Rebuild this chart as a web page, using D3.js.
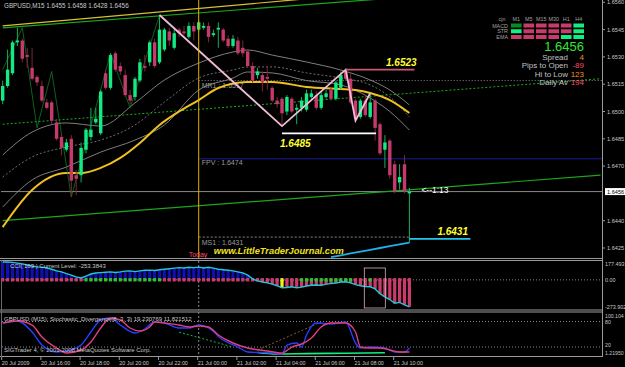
<!DOCTYPE html>
<html><head><meta charset="utf-8">
<script src="https://cdn.jsdelivr.net/npm/d3@7"></script>
<style>
html,body{margin:0;padding:0;background:#000;overflow:hidden}
svg{display:block}
text{font-family:"Liberation Sans",Arial,sans-serif}
</style></head><body>
<svg id="c" width="625" height="367"></svg>
<script>
// ---------------- DATA ----------------
const headerText = "GBPUSD,M15  1.6455 1.6458 1.6428 1.6456";
const opens = [1.6506,1.6514,1.6521,1.6538,1.6539,1.6531,1.6524,1.6519,1.6514,1.6505,
1.6505,1.6494,1.6486,1.6479,1.6485,1.6465,1.6465,1.6479,1.6486,1.6494,
1.6488,1.6521,1.6513,1.6532,1.6525,1.6520,1.6509,1.6508,1.6517,1.6525,
1.6527,1.6538,1.6527,1.6534,1.6544,1.6535,1.6545,1.6544,1.6541,1.6547,
1.6545,1.6546,1.6547,1.6542,1.6545,1.6545,1.6540,1.6536,1.6539,1.6535,
1.6533,1.6525,1.6520,1.6520,1.6519,1.6513,1.6506,1.6507,1.6500,1.6507,
1.6501,1.6502,1.6501,1.6508,1.6509,1.6502,1.6508,1.6512,1.6507,1.6513,
1.6522,1.6518,1.6506,1.6497,1.6506,1.6497,1.6506,1.6493,1.6479,1.6484,
1.6471,1.6461,1.6471,1.6455];
const highs = [1.6517,1.6534,1.6539,1.6546,1.6540,1.6535,1.6535,1.6520,1.6517,1.6507,
1.6506,1.6496,1.6488,1.6485,1.6487,1.6468,1.6483,1.6491,1.6502,1.6502,
1.6512,1.6523,1.6532,1.6533,1.6527,1.6523,1.6512,1.6519,1.6529,1.6531,
1.6539,1.6540,1.6553,1.6546,1.6546,1.6545,1.6546,1.6547,1.6549,1.6549,
1.6550,1.6549,1.6549,1.6545,1.6549,1.6546,1.6542,1.6542,1.6541,1.6539,
1.6534,1.6527,1.6524,1.6522,1.6525,1.6514,1.6508,1.6508,1.6509,1.6508,
1.6504,1.6508,1.6512,1.6512,1.6511,1.6511,1.6512,1.6513,1.6517,1.6522,
1.6523,1.6521,1.6507,1.6507,1.6509,1.6510,1.6507,1.6494,1.6487,1.6485,
1.6473,1.6471,1.6476,1.6458];
const lows = [1.6504,1.6513,1.6520,1.6536,1.6527,1.6524,1.6517,1.6514,1.6505,1.6501,
1.6493,1.6484,1.6476,1.6478,1.6453,1.6454,1.6461,1.6477,1.6484,1.6493,
1.6487,1.6512,1.6512,1.6522,1.6520,1.6508,1.6504,1.6506,1.6516,1.6522,
1.6525,1.6524,1.6526,1.6533,1.6536,1.6534,1.6541,1.6542,1.6540,1.6539,
1.6544,1.6545,1.6538,1.6541,1.6535,1.6538,1.6535,1.6535,1.6531,1.6530,
1.6524,1.6516,1.6518,1.6511,1.6512,1.6505,1.6502,1.6492,1.6498,1.6499,
1.6493,1.6500,1.6500,1.6507,1.6501,1.6501,1.6507,1.6506,1.6506,1.6512,
1.6517,1.6504,1.6495,1.6496,1.6497,1.6496,1.6484,1.6476,1.6469,1.6463,
1.6455,1.6457,1.6455,1.6428];
const closes = [1.6514,1.6523,1.6538,1.6539,1.6529,1.6530,1.6518,1.6516,1.6506,1.6502,
1.6495,1.6485,1.6480,1.6483,1.6462,1.6463,1.6480,1.6490,1.6490,1.6496,
1.6511,1.6513,1.6531,1.6523,1.6522,1.6509,1.6506,1.6518,1.6527,1.6524,
1.6538,1.6525,1.6545,1.6545,1.6539,1.6543,1.6543,1.6543,1.6547,1.6544,
1.6549,1.6547,1.6541,1.6543,1.6546,1.6539,1.6536,1.6540,1.6532,1.6532,
1.6525,1.6517,1.6522,1.6516,1.6518,1.6506,1.6504,1.6499,1.6508,1.6500,
1.6502,1.6506,1.6510,1.6510,1.6502,1.6509,1.6510,1.6507,1.6516,1.6520,
1.6518,1.6505,1.6496,1.6506,1.6498,1.6505,1.6491,1.6477,1.6483,1.6465,
1.6456,1.6464,1.6456,1.6456];

const timeIdx = [0,8,16,24,32,40,48,56,64,72,80];
const timeLabels = ["20 Jul 2009","20 Jul 16:00","20 Jul 18:00","20 Jul 20:00","20 Jul 22:00","21 Jul 00:00","21 Jul 02:00","21 Jul 04:00","21 Jul 06:00","21 Jul 08:00","21 Jul 10:00"];
const priceTicks = [1.6560,1.6545,1.6530,1.6515,1.6500,1.6485,1.6470,1.6440,1.6425];
const bidPrice = 1.6456;

// moving averages sampled at bar index
const maIdx    = [0,6,13,16,20,24,28,32,36,40,44,50,55,62,69,72,75,79,83];
const maYellow = [1.64365,1.64569,1.64662,1.64662,1.64690,1.64745,1.64827,1.64926,1.65000,1.65063,1.65129,1.65162,1.65162,1.65135,1.65124,1.65118,1.65102,1.65063,1.64992];
const bandIdx   = [0,6,13,20,27,33,40,47,50,55,62,69,75,79,83];
const bandUpper = [1.64761,1.64887,1.64937,1.64920,1.65047,1.65173,1.65266,1.65327,1.65338,1.65310,1.65272,1.65228,1.65173,1.65118,1.65036];
const bandMid   = [1.64640,1.64750,1.64805,1.64843,1.64926,1.65052,1.65184,1.65228,1.65245,1.65245,1.65212,1.65184,1.65146,1.65080,1.64970];
const bandLower = [1.64475,1.64624,1.64695,1.64777,1.64843,1.64926,1.65118,1.65184,1.65217,1.65212,1.65170,1.65146,1.65074,1.65000,1.64898];

// zigzag (pink) and thin green swing lines
const zigIdx   = [32,57,70,72,75];
const zigPrice = [1.6553,1.6492,1.6523,1.6495,1.6510];
const swingIdx   = [0,4,7,10,14,20,22,26,32];
const swingPrice = [1.6523,1.6546,1.6491,1.6522,1.6453,1.6512,1.6532,1.6502,1.6553];

// trend lines [idxA, priceA, idxB, priceB]
const trendUpperGreen  = [0,1.6546,122,1.6571];
const trendUpperYellow = [0,1.6547,54,1.6560];
const trendLowerGreen  = [0,1.6440,122,1.6465];
const trendDottedGreen = [0,1.6493,122,1.6518];
const cyanIdx   = [67,71,75,79,83];
const cyanPrice = [1.6420,1.6422,1.6424,1.6426,1.6428];

// pivot levels
const pivotNames  = ["MR1","FPV","MS1"];
const pivotLevels = [1.6517,1.6474,1.6431];
const todayIdx = 40;

// target levels
const levelHigh = 1.6523, levelHighText = "1.6523";
const levelLow = 1.6488,  levelLowText = "1.6485";
const levelTarget = 1.6430, levelTargetText = "1.6431";

// dashboard
const tfCols = ["M1","M5","M15","M30","H1","H4"];
const tfRows = ["MACD","STR","EMA"];
const tfSignals = [[2,0,0,0,0,1],[1,0,0,0,0,1],[0,0,0,0,1,1]];
const statLabels = ["Spread","Pips to Open","Hi to Low","Daily Av"];
const statValues = ["4","-89","123","194"];

// CCI
const cciVals = [168,168,165,158,150,140,130,122,120,112,100,85,75,58,45,28,18,35,55,65,
68,72,75,70,75,82,85,78,85,90,92,88,95,100,105,110,115,112,118,115,
120,112,118,110,100,95,90,85,75,65,45,10,-10,-20,-28,-40,-55,-75,-72,-65,
-75,-68,-58,-50,-48,-52,-40,-35,-30,-20,-18,-28,-45,-55,-62,-65,-85,-130,-160,-185,
-220,-212,-235,-253.38];
const cciTrend = "rrrrrrrrrrrrrrrrrggggggggggggggggrrrrrrrrrrrrrrrrrrrrrrrryrrrgggggggggggrrrgrrrrrrrr";
const cciMax = 177.493, cciMin = -273.902;

// Stochastic
const stochDIdx = [0,3,6,8,11,13,16,18,20,22,24,26,28,30,31,33,36,38,40,42,44,47,50,54,57,59,61,63,65,67,70,72,73,75,77,79,81,83];
const stochD    = [76.5,81.3,71.8,43.6,17.7,5.9,13,31.8,64.8,88.3,83.6,64.8,57.7,67.1,78.9,76.5,71.8,67.1,69.5,67.1,48.3,29.5,17.7,10.6,5.9,20,27.1,41.2,67.1,76.5,76.5,55.4,20,17.7,17.7,13,8.3,8.3];
const stochKIdx = [0,3,6,8,11,14,16,18,20,22,24,27,29,31,33,36,38,40,42,45,48,50,55,57,58,60,61,62,64,67,70,72,73,75,78,80,82,83];
const stochK    = [76.5,81.3,55.4,24.7,8.3,13,24.7,55.4,83.6,88.3,71.8,53,62.4,78.9,76.5,64.8,64.8,71.8,64.8,36.5,20,8.3,5.9,3.5,24.7,29.5,20,48.3,76.5,74.2,78.9,29.5,17.7,20,17.7,8.3,8.3,17.7];
const stochSigIdx = [52,56,62,70,78];
const stochSig    = [7,3.5,4.5,5.5,6.5];
const stochMax = 100.104, stochMin = 1.2195;

// ---------------- DRAW ----------------
const svg = d3.select("#c");
const W = 625;
const axisX = 602;
const C = {bull:"#12ea82", bear:"#c43a6c", bearWick:"#7a2638", grid:"#7a7a7a", text:"#c8c8c8"};

const x = d3.scaleLinear().domain([0,83]).range([2.7,409.4]);
const y = d3.scaleLinear().domain([1.6425,1.6560]).range([248,2.3]);
const yc = d3.scaleLinear().domain([cciMin,cciMax]).range([309,261]);
const ys = d3.scaleLinear().domain([stochMin,stochMax]).range([355,313]);

svg.append("rect").attr("width",W).attr("height",367).attr("fill","#000");
const defs = svg.append("defs");
defs.append("clipPath").attr("id","mainClip").append("rect").attr("x",1).attr("y",0).attr("width",axisX-1).attr("height",258);
const main = svg.append("g").attr("clip-path","url(#mainClip)");

// frames
[[258.5,260.5],[310,312],[356.5,356.5]].forEach(([t,b])=>{
  svg.append("line").attr("x1",0).attr("x2",axisX).attr("y1",t).attr("y2",t).attr("stroke","#9a9a9a");
  svg.append("line").attr("x1",0).attr("x2",axisX).attr("y1",b).attr("y2",b).attr("stroke","#9a9a9a");
});
svg.append("line").attr("x1",axisX+0.5).attr("x2",axisX+0.5).attr("y1",0).attr("y2",357).attr("stroke","#9a9a9a");
svg.append("line").attr("x1",1.5).attr("x2",1.5).attr("y1",260).attr("y2",357).attr("stroke","#6a6a6a");

// horizontal bid line
main.append("line").attr("x1",0).attr("x2",axisX).attr("y1",y(bidPrice)).attr("y2",y(bidPrice)).attr("stroke","#8a8a8a");

// trendlines
function tl(t,color,w,dash){
  main.append("line").attr("x1",x(t[0])).attr("y1",y(t[1])).attr("x2",x(t[2])).attr("y2",y(t[3]))
    .attr("stroke",color).attr("stroke-width",w).attr("stroke-dasharray",dash||null);
}
tl(trendDottedGreen,"#18b018",1,"2,2");
tl(trendLowerGreen,"#1aa81a",1.2);
tl([trendUpperYellow[0],trendUpperYellow[1],trendUpperYellow[2]*2,trendUpperYellow[3]+(trendUpperYellow[3]-trendUpperYellow[1])],"#d8c030",1.2);
tl(trendUpperGreen,"#1aa81a",1.2);

// pivot lines
const pvX0 = x(todayIdx);
main.append("line").attr("x1",pvX0).attr("x2",axisX).attr("y1",y(pivotLevels[0])).attr("y2",y(pivotLevels[0])).attr("stroke","#8a8a8a").attr("stroke-dasharray","1,2");
main.append("line").attr("x1",pvX0).attr("x2",axisX).attr("y1",y(pivotLevels[1])).attr("y2",y(pivotLevels[1])).attr("stroke","#1c1c9a");
main.append("line").attr("x1",pvX0).attr("x2",x(83)).attr("y1",y(pivotLevels[2])).attr("y2",y(pivotLevels[2])).attr("stroke","#8a8a8a").attr("stroke-dasharray","2,2");
main.append("text").attr("x",pvX0+3).attr("y",y(pivotLevels[0])+7).attr("fill","#9a9a9a").attr("font-size",7).text(pivotNames[0]+" : "+pivotLevels[0].toFixed(4));
main.append("text").attr("x",pvX0+3).attr("y",y(pivotLevels[1])+6.5).attr("fill","#9a9a9a").attr("font-size",7).text(pivotNames[1]+" : "+pivotLevels[1].toFixed(4));
main.append("text").attr("x",pvX0+3).attr("y",y(pivotLevels[2])+7.5).attr("fill","#9a9a9a").attr("font-size",7).text(pivotNames[2]+" : "+pivotLevels[2].toFixed(4));

// bands & MA
const lineGen = (idx)=>d3.line().x((d,i)=>x(idx[i])).y(d=>y(d)).curve(d3.curveMonotoneX);
main.append("path").attr("d",lineGen(bandIdx)(bandUpper)).attr("fill","none").attr("stroke","#8c8c8c").attr("stroke-width",0.9);
main.append("path").attr("d",lineGen(bandIdx)(bandMid)).attr("fill","none").attr("stroke","#7a7a7a").attr("stroke-width",0.9).attr("stroke-dasharray","2,2");
main.append("path").attr("d",lineGen(bandIdx)(bandLower)).attr("fill","none").attr("stroke","#8c8c8c").attr("stroke-width",0.9);
main.append("path").attr("d",lineGen(maIdx)(maYellow)).attr("fill","none").attr("stroke","#f0c020").attr("stroke-width",2);

// swing lines
main.append("path").attr("d",d3.line().x((d,i)=>x(swingIdx[i])).y(d=>y(d))(swingPrice)).attr("fill","none").attr("stroke","#138a28").attr("stroke-width",0.7);

// candles
const candles = opens.map((o,i)=>({i,o,h:highs[i],l:lows[i],c:closes[i]}));
const cg = main.append("g");
candles.forEach(d=>{
  const up = d.c>=d.o;
  cg.append("line").attr("x1",x(d.i)).attr("x2",x(d.i)).attr("y1",y(d.h)).attr("y2",y(d.l))
    .attr("stroke",up?"#10b060":C.bearWick).attr("stroke-width",1);
  const top = y(Math.max(d.o,d.c)), bot = y(Math.min(d.o,d.c));
  cg.append("rect").attr("x",x(d.i)-1.7).attr("width",3.4).attr("y",top).attr("height",Math.max(1.2,bot-top))
    .attr("fill",up?C.bull:C.bear);
});

// zigzag
main.append("path").attr("d",d3.line().x((d,i)=>x(zigIdx[i])).y(d=>y(d))(zigPrice)).attr("fill","none").attr("stroke","#f2bcd8").attr("stroke-width",1.8);

// levels
main.append("line").attr("x1",x(70)).attr("x2",x(83)+5).attr("y1",y(levelHigh)).attr("y2",y(levelHigh)).attr("stroke","#c85a70").attr("stroke-width",1.8);
main.append("line").attr("x1",x(57)).attr("x2",x(76)+1).attr("y1",y(levelLow)).attr("y2",y(levelLow)).attr("stroke","#ffffff").attr("stroke-width",1.8);
main.append("line").attr("x1",x(83)).attr("x2",x(83)+61).attr("y1",y(levelTarget)).attr("y2",y(levelTarget)).attr("stroke","#20c8f0").attr("stroke-width",1.8);
main.append("path").attr("d",d3.line().x((d,i)=>x(cyanIdx[i])).y(d=>y(d)).curve(d3.curveMonotoneX)(cyanPrice)).attr("fill","none").attr("stroke","#20b0e8").attr("stroke-width",1.8);
const lvlStyle = s=>s.attr("fill","#ffff30").attr("font-size",10).attr("font-weight","bold").attr("font-style","italic");
lvlStyle(main.append("text").attr("x",x(77)+6).attr("y",y(levelHigh)-4).text(levelHighText));
lvlStyle(main.append("text").attr("x",x(57)-2).attr("y",y(levelLow)+14).text(levelLowText));
lvlStyle(main.append("text").attr("x",x(83)+28).attr("y",y(levelTarget)-4).text(levelTargetText));
main.append("text").attr("x",x(83)+12).attr("y",y(bidPrice)+1).attr("fill","#ffffff").attr("font-size",8.5).text("<--1:13");

// today line
main.append("line").attr("x1",x(todayIdx)).attr("x2",x(todayIdx)).attr("y1",0).attr("y2",258).attr("stroke","#e0b000").attr("stroke-width",1);
main.append("text").attr("x",x(todayIdx)-10).attr("y",257).attr("fill","#ff4a6a").attr("font-size",7).text("Today");
main.append("text").attr("x",x(todayIdx)+15).attr("y",254).attr("fill","#f0e020").attr("font-size",9.3).attr("font-weight","bold").attr("font-style","italic").text("www.LittleTraderJournal.com");

// header
svg.append("text").attr("x",4).attr("y",8).attr("fill",C.text).attr("font-size",6.3).text(headerText);

// dashboard
const colX = d3.scaleBand().domain(tfCols).range([511,584]).paddingInner(0.15);
const rowY = d3.scaleBand().domain(tfRows).range([23.5,39]).paddingInner(0.3);
const sigColor = ["#c83c6c","#10f080","#0a8a20"];
tfCols.forEach(c=>svg.append("text").attr("x",colX(c)+colX.bandwidth()/2).attr("y",21).attr("text-anchor","middle").attr("fill","#a0a0a0").attr("font-size",5.4).text(c));
svg.append("text").attr("x",502).attr("y",21).attr("text-anchor","middle").attr("fill","#a0a0a0").attr("font-size",5.4).text("cjn");
tfRows.forEach((r,ri)=>{
  svg.append("text").attr("x",508).attr("y",rowY(r)+rowY.bandwidth()).attr("text-anchor","end").attr("fill","#a0a0a0").attr("font-size",5.4).text(r);
  tfCols.forEach((c,ci)=>{
    svg.append("rect").attr("x",colX(c)).attr("y",rowY(r)).attr("width",colX.bandwidth()).attr("height",rowY.bandwidth()).attr("fill",sigColor[tfSignals[ri][ci]]);
  });
});
svg.append("text").attr("x",584).attr("y",51).attr("text-anchor","end").attr("fill","#32e632").attr("font-size",13).text(bidPrice.toFixed(4));
const statColors = ["#ff8a1a","#ff4a6a","#ff8a1a","#ff4a6a"];
statLabels.forEach((s,i)=>{
  svg.append("text").attr("x",568).attr("y",60+i*8.3).attr("text-anchor","end").attr("fill","#c0c0c0").attr("font-size",8).text(s);
  svg.append("text").attr("x",584).attr("y",60+i*8.3).attr("text-anchor","end").attr("fill",statColors[i]).attr("font-size",8).text(statValues[i]);
});

// right axis
const axisG = svg.append("g");
priceTicks.forEach(p=>{
  axisG.append("line").attr("x1",axisX).attr("x2",axisX+3).attr("y1",y(p)).attr("y2",y(p)).attr("stroke","#9a9a9a");
  axisG.append("text").attr("x",axisX+5).attr("y",y(p)+2).attr("fill",C.text).attr("font-size",5.6).text(p.toFixed(4));
});
axisG.append("rect").attr("x",axisX+3).attr("y",y(bidPrice)-3.5).attr("width",20).attr("height",7).attr("fill","#ffffff");
axisG.append("text").attr("x",axisX+5).attr("y",y(bidPrice)+2).attr("fill","#000").attr("font-size",5.6).text(bidPrice.toFixed(4));

// time axis
timeIdx.forEach((ti,k)=>{
  svg.append("line").attr("x1",x(ti)-1).attr("x2",x(ti)-1).attr("y1",357).attr("y2",360).attr("stroke","#9a9a9a");
  svg.append("text").attr("x",x(ti)-1).attr("y",364.5).attr("fill",C.text).attr("font-size",5.4).text(timeLabels[k]);
});

// day separator in sub windows
[[261,310],[312,356]].forEach(([a,b])=>svg.append("line").attr("x1",x(todayIdx)).attr("x2",x(todayIdx)).attr("y1",a).attr("y2",b).attr("stroke","#8a8a8a").attr("stroke-dasharray","2,2"));

// CCI panel
const cg2 = svg.append("g");
cg2.append("line").attr("x1",2).attr("x2",axisX).attr("y1",yc(0)).attr("y2",yc(0)).attr("stroke","#8a8a8a").attr("stroke-dasharray","1,2");
const trendCol = {r:"#c83c6c",g:"#30c030",y:"#f0f020"};
cciVals.forEach((v,i)=>{
  const t = cciTrend[i];
  const col = v>=0 ? "#1010b0" : (t==="y" ? "#f0f020" : "#c83c6c");
  cg2.append("rect").attr("x",x(i)-1.6).attr("width",3.2).attr("y",Math.min(yc(v),yc(0))).attr("height",Math.abs(yc(v)-yc(0))).attr("fill",col);
  cg2.append("rect").attr("x",x(i)-1.6).attr("width",3.2).attr("y",yc(0)-1.8).attr("height",3.4).attr("fill",trendCol[t]);
});
cg2.append("path").attr("d",d3.line().x((d,i)=>x(i)).y(d=>yc(d))(cciVals)).attr("fill","none").attr("stroke","#22c8d8").attr("stroke-width",1.4);
cg2.append("rect").attr("x",x(74)-1).attr("y",yc(cciMax)+7).attr("width",21).attr("height",40).attr("fill","none").attr("stroke","#d8b0c0").attr("stroke-width",0.8);
svg.append("text").attr("x",10).attr("y",268).attr("fill",C.text).attr("font-size",6).text("CCI( 163 )   Current Level:   -253.3843");
[["177.493",266],["0.00",282],["-273.902",309]].forEach(([t,yy])=>{
  svg.append("text").attr("x",axisX+3).attr("y",yy).attr("fill",C.text).attr("font-size",5.4).text(t);
});

// Stochastic panel
const sg = svg.append("g");
[80,20].forEach(v=>sg.append("line").attr("x1",2).attr("x2",axisX).attr("y1",ys(v)).attr("y2",ys(v)).attr("stroke","#8a8a8a").attr("stroke-dasharray","1,2"));
sg.append("path").attr("d",d3.line().x((d,i)=>x(stochSigIdx[i])).y(d=>ys(d)).curve(d3.curveMonotoneX)(stochSig)).attr("fill","none").attr("stroke","#10f080").attr("stroke-width",1.6);
sg.append("line").attr("x1",x(36)).attr("y1",ys(55)).attr("x2",x(47)).attr("y2",ys(20)).attr("stroke","#18b040").attr("stroke-dasharray","2,2");
sg.append("line").attr("x1",x(52)).attr("y1",ys(13)).attr("x2",x(65)).attr("y2",ys(79)).attr("stroke","#8a5a30").attr("stroke-dasharray","2,2");
sg.append("path").attr("d",d3.line().x((d,i)=>x(stochKIdx[i])).y(d=>ys(d)).curve(d3.curveMonotoneX)(stochK)).attr("fill","none").attr("stroke","#2a3cff").attr("stroke-width",1.4);
sg.append("path").attr("d",d3.line().x((d,i)=>x(stochDIdx[i])).y(d=>ys(d)).curve(d3.curveMonotoneX)(stochD)).attr("fill","none").attr("stroke","#e0407c").attr("stroke-width",1.4);
svg.append("text").attr("x",4).attr("y",321).attr("fill",C.text).attr("font-size",6).text("GBPUSD (M15): Stochastic_Divergence(8, 3, 3) 19.230769 11.821512");
svg.append("text").attr("x",4).attr("y",352).attr("fill",C.text).attr("font-size",6).text("SIGTrader 4, © 2001-2008 MetaQuotes Software Corp.");
[["100.104",318],["80",324],["20",346.5],["1.21950",354.5]].forEach(([t,yy])=>{
  svg.append("text").attr("x",axisX+3).attr("y",yy).attr("fill",C.text).attr("font-size",5.2).text(t);
});
</script>
</body></html>
